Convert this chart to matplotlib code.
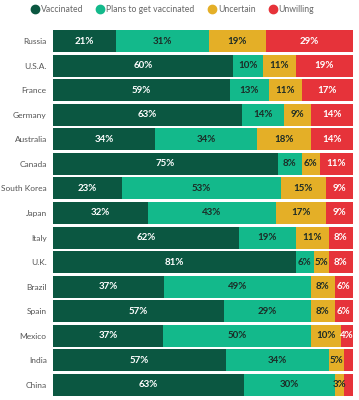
import numpy as np
import matplotlib
matplotlib.use("Agg")
import matplotlib.pyplot as plt
from matplotlib.lines import Line2D

# ── data ────────────────────────────────────────────────────────────────────
COUNTRIES = ["Russia", "U.S.A.", "France", "Germany", "Australia", "Canada",
             "South Korea", "Japan", "Italy", "U.K.", "Brazil", "Spain",
             "Mexico", "India", "China"]
SERIES = ["Vaccinated", "Plans to get vaccinated", "Uncertain", "Unwilling"]

vaccinated = [21, 60, 59, 63, 34, 75, 23, 32, 62, 81, 37, 57, 37, 57, 63]
plans      = [31, 10, 13, 14, 34,  8, 53, 43, 19,  6, 49, 29, 50, 34, 30]
uncertain  = [19, 11, 11,  9, 18,  6, 15, 17, 11,  5,  8,  8, 10,  5,  3]
unwilling  = [29, 19, 17, 14, 14, 11,  9,  9,  8,  8,  6,  6,  4,  3,  3]

# ── style ───────────────────────────────────────────────────────────────────
COLOURS    = ["#0b5741", "#13b98b", "#e4af27", "#e6333a"]
TEXT_COLS  = ["white", "#1c2b26", "#1c2b26", "white"]
MIN_LABEL  = [0, 0, 3, 4]   # smallest value that still gets a label

plt.rcParams["font.family"] = ["Lato", "DejaVu Sans"]

fig = plt.figure(figsize=(3.59, 4.0), dpi=100)
ax = fig.add_axes([0.1476, 0.007, 0.835, 0.921])

data = np.array([vaccinated, plans, uncertain, unwilling], dtype=float)
totals = data.sum(axis=0)
shares = data / totals * 100
y = np.arange(len(COUNTRIES))

left = np.zeros(len(COUNTRIES))
for i, name in enumerate(SERIES):
    ax.barh(y, shares[i], left=left, height=0.9, color=COLOURS[i],
            edgecolor="none", label=name)
    for j in range(len(COUNTRIES)):
        v = data[i, j]
        if v >= MIN_LABEL[i] and v > 0:
            ax.text(left[j] + shares[i, j] / 2, y[j], f"{int(v)}%",
                    ha="center", va="center", fontsize=7, fontweight="bold",
                    color=TEXT_COLS[i])
    left += shares[i]

ax.set_xlim(0, 100)
ax.set_ylim(len(COUNTRIES) - 0.5, -0.5)
ax.set_yticks(y)
ax.set_yticklabels(COUNTRIES, fontsize=6.0, color="#555555")
ax.tick_params(axis="y", length=0, pad=4.5)
ax.set_xticks([])
for s in ax.spines.values():
    s.set_visible(False)

handles = [Line2D([0], [0], marker="o", ls="none", ms=6, color=c,
                  markeredgecolor=c) for c in COLOURS]
leg = fig.legend(handles, SERIES, loc="upper center", ncol=4,
                 bbox_to_anchor=(0.48, 1.008), frameon=False, fontsize=6.2,
                 handletextpad=0.2, columnspacing=1.5, handlelength=1.0)
for t in leg.get_texts():
    t.set_color("#666666")

fig.savefig("out.png", dpi=100)
